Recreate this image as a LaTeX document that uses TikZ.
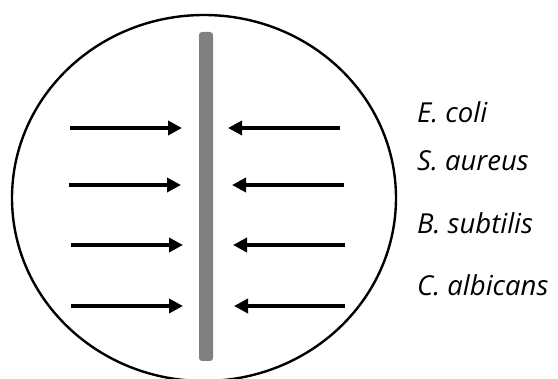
\documentclass[tikz,border=0pt]{standalone}
\usepackage{fontspec}
\newfontfamily\labfont{Open Sans}
\usetikzlibrary{arrows.meta}
\begin{document}
\begin{tikzpicture}[x=1pt,y=-1pt,
  dish/.style={draw=black,line width=2.4pt},
  barstyle/.style={fill=black!50,draw=none,rounded corners=3pt},
  flow/.style={line width=3.6pt,-{Triangle[length=14pt,width=14pt]}},
  lab/.style={anchor=base west,inner sep=0pt,font=\labfont\itshape\fontsize{27.5}{30}\selectfont}]
\useasboundingbox (0,0) rectangle (558,379);
\draw[dish] (204,198) ellipse [x radius=192, y radius=183];
\fill[barstyle] (199,32) rectangle (213,361);
\foreach \i/\y/\la/\lb/\ra/\rb in {1/128/70/182/340/228, 2/185/69/181/344/232, 3/245/71/183/345/233, 4/306/71/183/345/234}{
  \coordinate (ls\i) at (\la,\y);
  \coordinate (lt\i) at (\lb,\y);
  \coordinate (rs\i) at (\ra,\y);
  \coordinate (rt\i) at (\rb,\y);
  \draw[flow] (ls\i) -- (lt\i);
  \draw[flow] (rs\i) -- (rt\i);
}
\node[lab] (l1) at (417,122.7) {E. coli};
\node[lab] (l2) at (417,170.7) {S. aureus};
\node[lab] (l3) at (417,233.3) {B. subtilis};
\node[lab] (l4) at (417,296) {C. albicans};
\end{tikzpicture}
\end{document}
